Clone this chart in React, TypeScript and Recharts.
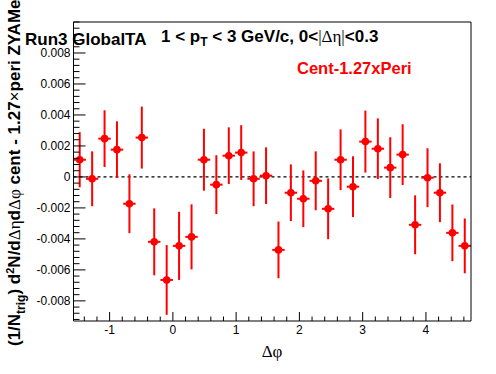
import React from 'react';
import { ComposedChart, Scatter, ErrorBar, XAxis, YAxis, ReferenceLine } from 'recharts';

// bin centres in delta phi (32 bins from -pi/2 to 3pi/2)
const dphi = [
  -1.473, -1.276, -1.080, -0.884, -0.687, -0.491, -0.295, -0.098,
  0.098, 0.295, 0.491, 0.687, 0.884, 1.080, 1.276, 1.473,
  1.669, 1.865, 2.062, 2.258, 2.454, 2.651, 2.847, 3.043,
  3.240, 3.436, 3.632, 3.829, 4.025, 4.221, 4.418, 4.614,
];
const halfBin = 0.098;

// cent - 1.27 x peri, ZYAM subtracted
const yieldVals = [
  0.00111, -0.00012, 0.00247, 0.00176, -0.00173, 0.00254, -0.00419, -0.00665,
  -0.00445, -0.00387, 0.00111, -0.0005, 0.00137, 0.00157, -0.00012, 0.00008,
  -0.00471, -0.00102, -0.00141, -0.00025, -0.00206, 0.00111, -0.00063, 0.00228,
  0.00182, 0.0006, 0.00144, -0.00309, -0.00005, -0.00102, -0.00361, -0.00445,
];
const yieldErr = [
  0.00178, 0.00177, 0.00183, 0.00183, 0.0019, 0.002, 0.00216, 0.00225,
  0.0022, 0.0021, 0.002, 0.0019, 0.00183, 0.00177, 0.00177, 0.00183,
  0.00183, 0.00183, 0.00183, 0.0019, 0.00196, 0.00196, 0.00196, 0.002,
  0.00196, 0.00196, 0.00196, 0.0019, 0.0019, 0.0019, 0.00183, 0.00177,
];

const xMajor = [-1, 0, 1, 2, 3, 4];
const yMajor = [-0.008, -0.006, -0.004, -0.002, 0, 0.002, 0.004, 0.006, 0.008];
const xDomain: [number, number] = [-1.5708, 4.7124];
const yDomain: [number, number] = [-0.0093, 0.01];

// minor ticks: 5 subdivisions between major ticks
const xTicks: number[] = [];
for (let k = -7; k <= 23; k++) xTicks.push(+(k * 0.2).toFixed(4));
const yTicks: number[] = [];
for (let k = -23; k <= 25; k++) yTicks.push(+(k * 0.0004).toFixed(6));

const points = dphi.map((x, i) => ({ x, y: yieldVals[i], ex: halfBin, ey: yieldErr[i] }));

const RED = '#ff0000';
const SANS = '"Liberation Sans", Arial, Helvetica, sans-serif';
const SERIF = '"Liberation Serif", "Times New Roman", serif';

const XTick = (props: any) => {
  const { x, y, payload } = props;
  const v = payload.value;
  const major = xMajor.some((m) => Math.abs(m - v) < 1e-6);
  return (
    <g>
      <line x1={x} x2={x} y1={y} y2={y - (major ? 9 : 4.5)} stroke="#000" strokeWidth={1} />
      {major && (
        <text x={x} y={y + 13} textAnchor="middle" fontSize={12} fontFamily={SANS} fill="#000">
          {String(Math.round(v))}
        </text>
      )}
    </g>
  );
};

const YTick = (props: any) => {
  const { x, y, payload } = props;
  const v = payload.value;
  const major = yMajor.some((m) => Math.abs(m - v) < 1e-9);
  return (
    <g>
      <line x1={x} x2={x + (major ? 12 : 6)} y1={y} y2={y} stroke="#000" strokeWidth={1} />
      {major && (
        <text x={x - 3} y={y + 4} textAnchor="end" fontSize={12} fontFamily={SANS} fill="#000">
          {Math.abs(v) < 1e-9 ? '0' : v.toFixed(3)}
        </text>
      )}
    </g>
  );
};

const Marker = (props: any) => <circle cx={props.cx} cy={props.cy} r={3.8} fill={RED} />;

export default function App() {
  return (
    <div style={{ position: 'absolute', left: 0, top: 0, width: 496, height: 374, background: '#fff' }}>
      <ComposedChart width={496} height={374} margin={{ top: 21, right: 24, bottom: 52, left: 72.5 }}>
        <XAxis
          dataKey="x"
          type="number"
          domain={xDomain}
          allowDataOverflow
          ticks={xTicks}
          interval={0}
          tick={<XTick />}
          tickLine={false}
          tickSize={0}
          tickMargin={0}
          height={1}
          axisLine={{ stroke: '#000', strokeWidth: 1 }}
        />
        <XAxis xAxisId="top" orientation="top" type="number" domain={xDomain} allowDataOverflow tick={false} tickLine={false} height={1} axisLine={{ stroke: '#000', strokeWidth: 1 }} />
        <YAxis
          type="number"
          domain={yDomain}
          allowDataOverflow
          ticks={yTicks}
          interval={0}
          tick={<YTick />}
          tickLine={false}
          tickSize={0}
          tickMargin={0}
          width={1}
          axisLine={{ stroke: '#000', strokeWidth: 1 }}
        />
        <YAxis yAxisId="right" orientation="right" type="number" domain={yDomain} allowDataOverflow tick={false} tickLine={false} width={1} axisLine={{ stroke: '#000', strokeWidth: 1 }} />
        <ReferenceLine y={0} stroke="#000" strokeWidth={1.2} strokeDasharray="3 3" />
        <Scatter data={points} dataKey="y" shape={<Marker />} isAnimationActive={false}>
          <ErrorBar dataKey="ey" direction="y" width={0} stroke={RED} strokeWidth={2} isAnimationActive={false} />
          <ErrorBar dataKey="ex" direction="x" width={0} stroke={RED} strokeWidth={2} isAnimationActive={false} />
        </Scatter>
      </ComposedChart>
      <svg width={496} height={374} style={{ position: 'absolute', left: 0, top: 0, pointerEvents: 'none', overflow: 'hidden' }}>
        <text x={25} y={44.5} fontSize={17} fontWeight="bold" fontFamily={SANS} fill="#000">Run3 GlobalTA</text>
        <text x={161} y={42} fontSize={17} fontWeight="bold" fontFamily={SANS} fill="#000">
          1 &lt; p<tspan dy={4} fontSize={12}>T</tspan>
          <tspan dy={-4}> &lt; 3 GeV/c, 0&lt;</tspan>
          <tspan fontWeight="normal" fontFamily={SERIF}>|&#916;&#951;|</tspan>
          <tspan>&lt;0.3</tspan>
        </text>
        <text x={297} y={73.5} fontSize={16.5} fontWeight="bold" fontFamily={SANS} fill={RED}>Cent-1.27xPeri</text>
        <text x={272} y={357} textAnchor="middle" fontSize={17} fontFamily={SERIF} fill="#000">&#916;&#966;</text>
        <text transform="translate(20,346) rotate(-90)" fontSize={17} fontWeight="bold" fontFamily={SANS} fill="#000">
          (1/N<tspan dy={5} fontSize={12}>trig</tspan>
          <tspan dy={-5}>) d</tspan>
          <tspan dy={-6} fontSize={11}>2</tspan>
          <tspan dy={6}>N/d</tspan>
          <tspan fontWeight="normal" fontFamily={SERIF}>&#916;&#951;</tspan>
          <tspan>d</tspan>
          <tspan fontWeight="normal" fontFamily={SERIF}>&#916;&#966;</tspan>
          <tspan> cent - 1.27</tspan>
          <tspan fontWeight="normal">&#215;</tspan>
          <tspan>peri ZYAMed</tspan>
        </text>
      </svg>
    </div>
  );
}
